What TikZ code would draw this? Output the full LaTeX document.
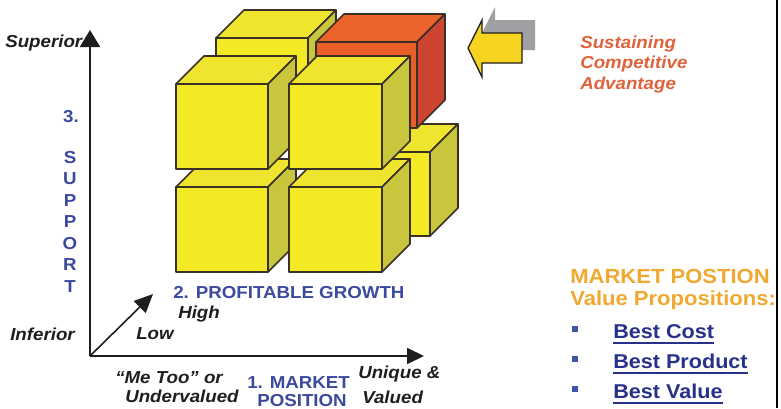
\documentclass[tikz,border=0pt]{standalone}
\usepackage{fontspec}
\usepackage{graphicx}
\setmainfont{Liberation Sans}
\usetikzlibrary{arrows.meta,calc}

\definecolor{axisdark}{HTML}{1E1E1E}
\definecolor{labelblue}{HTML}{3B4A9E}
\definecolor{navyblue}{HTML}{27318A}
\definecolor{bulletblue}{HTML}{3F55A5}
\definecolor{rustorange}{HTML}{E0623A}
\definecolor{goldorange}{HTML}{F0A830}
\definecolor{cubeyellow}{HTML}{F3E925}
\definecolor{cubetop}{HTML}{EFE52E}
\definecolor{cubeolive}{HTML}{C8C63C}
\definecolor{cubeorange}{HTML}{EA5E2A}
\definecolor{cubeorangetop}{HTML}{EC632C}
\definecolor{cuberust}{HTML}{CD4430}
\definecolor{cubeedge}{HTML}{3A3026}
\definecolor{arrowyellow}{HTML}{F7D420}
\definecolor{shadowgray}{HTML}{A0A0A4}

% slightly widened lettering
\newcommand\sx[1]{\scalebox{1.08}[1]{#1}}

% oblique depth of every block
\newcommand\blockdepth{28}
% #1,#2 = top-left of front face, #3,#4 = bottom-right of front face, #5 = colour prefix
\newcommand\drawblock[5]{%
  \filldraw[#5top] (#1,#2) -- (#1+\blockdepth,#2-\blockdepth) -- (#3+\blockdepth,#2-\blockdepth) -- (#3,#2) -- cycle;
  \filldraw[#5side] (#3,#2) -- (#3+\blockdepth,#2-\blockdepth) -- (#3+\blockdepth,#4-\blockdepth) -- (#3,#4) -- cycle;
  \filldraw[#5front] (#1,#2) rectangle (#3,#4);
}

\begin{document}
\begin{tikzpicture}[x=0.75pt,y=-0.75pt,
  edge/.style={draw=cubeedge,line width=1.2pt,line join=round},
  ytop/.style={edge,fill=cubetop},
  yside/.style={edge,fill=cubeolive},
  yfront/.style={edge,fill=cubeyellow},
  otop/.style={edge,fill=cubeorangetop},
  oside/.style={edge,fill=cuberust},
  ofront/.style={edge,fill=cubeorange},
  axis/.style={draw=axisdark,line width=1.5pt},
  axislabel/.style={inner sep=0pt,anchor=base west,text=axisdark,
    font=\fontsize{13}{15}\selectfont\bfseries\itshape},
  bluelabel/.style={inner sep=0pt,anchor=base west,text=labelblue,
    font=\fontsize{13}{15}\selectfont\bfseries},
  supportletter/.style={inner sep=0pt,anchor=base,text=labelblue,
    font=\fontsize{13}{15}\selectfont\bfseries},
  sustain/.style={inner sep=0pt,anchor=base west,text=rustorange,
    font=\fontsize{13}{15}\selectfont\bfseries\itshape},
  heading/.style={inner sep=0pt,anchor=base west,text=goldorange,
    font=\fontsize{15.3}{18}\selectfont\bfseries},
  choice/.style={inner sep=0pt,anchor=base west,text=navyblue,
    font=\fontsize{15}{18}\selectfont\bfseries},
  bulletmark/.style={fill=bulletblue,inner sep=0pt,minimum size=5.2pt},
  uline/.style={draw=navyblue,line width=1.4pt}
]
\path[use as bounding box] (0,0) rectangle (781,408);

% ---- blocks, back to front ----
\drawblock{330}{152}{430}{236}{y}
\drawblock{216}{38}{308}{124}{y}
\drawblock{316}{42}{417}{128}{o}
\drawblock{176}{187}{268}{272}{y}
\drawblock{289}{187}{382}{272}{y}
\drawblock{176}{84}{268}{169}{y}
\drawblock{289}{84}{382}{169}{y}

% ---- axes ----
\coordinate (origin) at (90,356);
\coordinate (ytip) at (90,30);
\coordinate (xtip) at (424,356);
\coordinate (ztip) at (153,294);
\draw[axis,-{Triangle[length=12.75pt,width=15pt]}] (origin) -- (ytip);
\draw[axis,-{Triangle[length=12.75pt,width=12pt]}] (origin) -- (xtip);
\draw[axis,line width=1.2pt,-{Triangle[length=14pt,width=12.5pt]}] (origin) -- (ztip);

% ---- axis texts ----
\node[axislabel] (superior) at (5,47) {\sx{Superior}};
\node[axislabel] (inferior) at (10,340) {\sx{Inferior}};
\node[axislabel] (low) at (136,339) {\sx{Low}};
\node[axislabel] (high) at (178,318) {\sx{High}};
\node[bluelabel] (growth) at (173,298) {\sx{2. PROFITABLE GROWTH}};
\node[axislabel] (metoo) at (115,383) {\sx{“Me Too” or}};
\node[axislabel] (underval) at (125,402) {\sx{Undervalued}};
\node[bluelabel] (market) at (247,388) {\sx{1. MARKET}};
\node[bluelabel] (position) at (257,406) {\sx{POSITION}};
\node[axislabel] (unique) at (358,378) {\sx{Unique \&}};
\node[axislabel] (valued) at (362,403) {\sx{Valued}};

\node[supportletter] (three) at (71,122) {\sx{3.}};
\foreach \ch [count=\i] in {S,U,P,P,O,R,T}
  \node[supportletter] (support\i) at (70,{163+21.5*(\i-1)}) {\sx{\ch}};

% ---- block arrow with its shadow ----
\fill[shadowgray] (481,35) -- (495,7) -- (495,20) -- (535,20) -- (535,50) -- (495,50) -- (495,64) -- cycle;
\filldraw[fill=arrowyellow,draw=axisdark,line width=1pt,line join=miter]
  (468,48) -- (482,20) -- (482,33) -- (522,33) -- (522,63) -- (482,63) -- (482,77) -- cycle;

\node[sustain] (sust1) at (580,48) {\sx{Sustaining}};
\node[sustain] (sust2) at (580,68) {\sx{Competitive}};
\node[sustain] (sust3) at (580,89) {\sx{Advantage}};

% ---- value propositions ----
\node[heading] (mp1) at (570,283) {\sx{MARKET POSTION}};
\node[heading] (mp2) at (570,305) {\sx{Value Propositions:}};

\node[bulletmark] (bul1) at (575,329) {};
\node[bulletmark] (bul2) at (575,359) {};
\node[bulletmark] (bul3) at (575,389) {};
\node[choice] (cost) at (613,338) {\sx{Best Cost}};
\node[choice] (product) at (613,368) {\sx{Best Product}};
\node[choice] (value) at (613,398) {\sx{Best Value}};
\foreach \n in {cost,product,value}
  \draw[uline] ($(\n.base west)+(0,5)$) -- ($(\n.base east)+(0,5)$);

% frame edge on the right
\draw[black,line width=0.8pt] (777,0) -- (777,408);
\end{tikzpicture}
\end{document}
